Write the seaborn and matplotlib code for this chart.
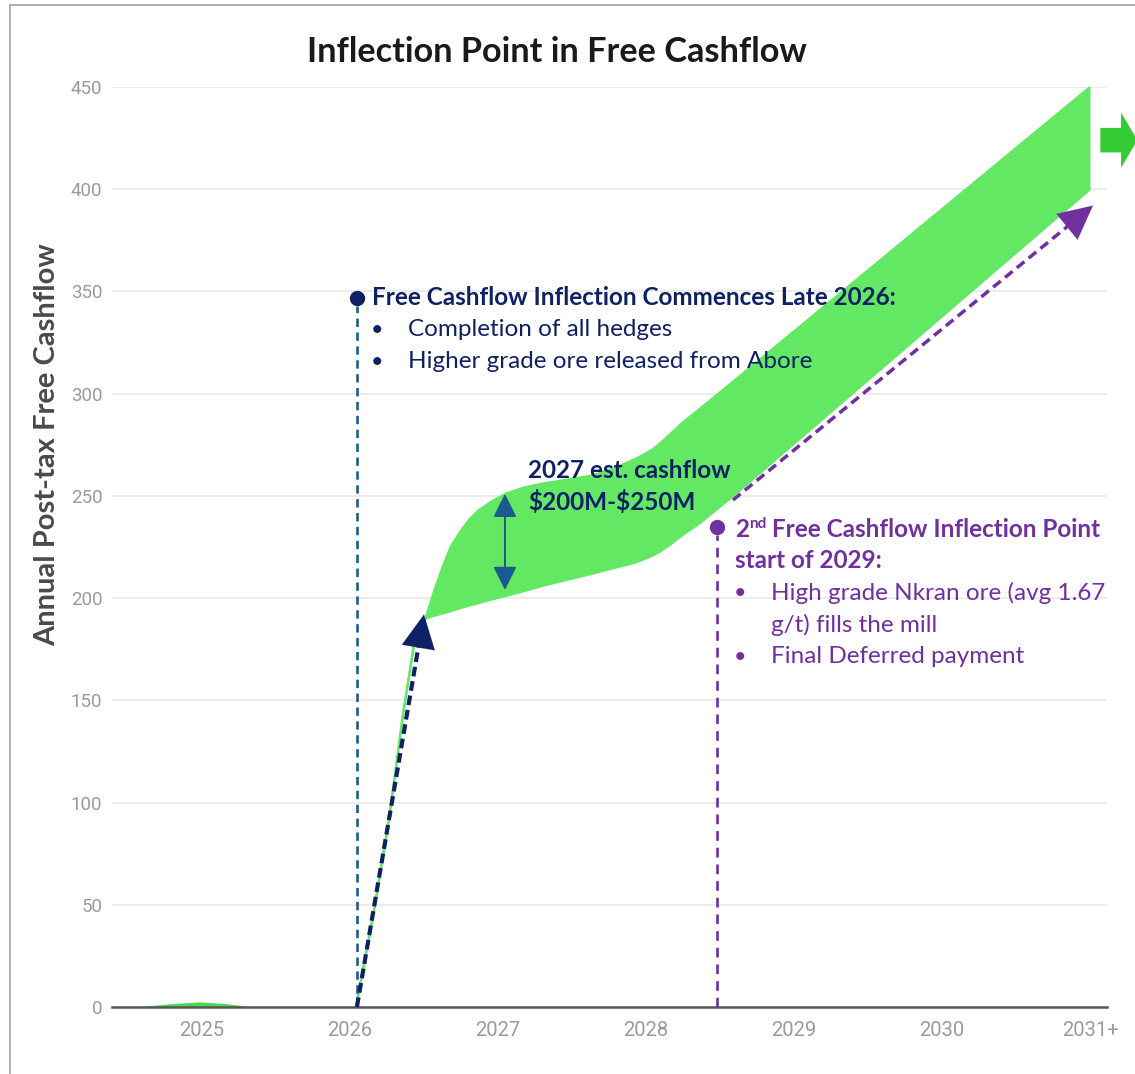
import numpy as np
import pandas as pd
import matplotlib
matplotlib.use("Agg")
import matplotlib.pyplot as plt
import seaborn as sns
from matplotlib.patches import FancyArrow, Rectangle

# ---------------- data ----------------
year_labels = ["2025", "2026", "2027", "2028", "2029", "2030", "2031+"]
year_pos = [0, 1, 2, 3, 4, 5, 6]
y_ticks = [0, 50, 100, 150, 200, 250, 300, 350, 400, 450]

band_x = [1.04, 1.16, 1.27, 1.36, 1.43, 1.51, 1.54, 1.58, 1.63, 1.68, 1.74, 1.80,
          1.87, 1.95, 2.05, 2.17, 2.30, 2.47, 2.64, 2.80, 2.91, 2.98, 3.05, 3.10,
          3.16, 3.25, 3.37, 3.59, 6.0]
band_upper = [0, 46, 95, 144, 176, 190, 197, 206, 216, 225, 232, 238,
              243, 247, 251, 254, 256, 258, 260, 264, 267.5, 270, 273, 276,
              280, 286, 293, 306, 450]
band_lower = [0, 46, 95, 144, 176, 190, 190.8, 191.6, 192.6, 193.6, 195, 196.2,
              197.6, 199.2, 201, 203.3, 206, 209, 212, 215, 217, 218.8, 221, 223,
              226, 231, 237, 250, 400]

bump_x = [-0.37, -0.2, -0.01, 0.15, 0.30]
bump_y = [0, 1.2, 2.0, 1.2, 0]

# annotation anchors (data units)
first_inflection = (1.047, 347)
second_inflection = (3.478, 235)
range_2027 = (2.047, 204, 251)
rise_arrow = ((1.047, 0), (1.50, 192))
growth_arrow = ((3.588, 248), (6.02, 392))

# ---------------- style ----------------
sns.set_theme(style="white")
plt.rcParams["font.family"] = ["Lato", "DejaVu Sans"]
plt.rcParams["lines.scale_dashes"] = False

W, H = 1135, 1074
fig = plt.figure(figsize=(W / 100, H / 100), dpi=100)
fig.patch.set_facecolor("white")

left, right, top, bottom = 112, 1107, 87, 1007
ax = fig.add_axes([left / W, 1 - bottom / H, (right - left) / W, (bottom - top) / H])
ax.set_facecolor("white")
ax.set_xlim(-0.608, 6.115)
ax.set_ylim(0, 450)

GREEN = "#62E862"
NAVY = "#0F2164"
TEAL = "#1F5C87"
PURPLE = "#7030A0"
ARROWBLUE = "#1A5A8C"

for yt in y_ticks[1:]:
    ax.axhline(yt, color="#ebebeb", lw=1.3, zorder=0)

for s in ["left", "right", "top"]:
    ax.spines[s].set_visible(False)
ax.spines["bottom"].set_color("#555555")
ax.spines["bottom"].set_linewidth(1.8)

ax.set_xticks(year_pos)
ax.set_xticklabels(year_labels)
ax.set_yticks(y_ticks)
ax.tick_params(axis="both", length=0, labelcolor="#9a9a9a")
ax.tick_params(axis="y", pad=7, labelsize=13.5)
ax.tick_params(axis="x", pad=10, labelsize=14.5)
for lab in ax.get_xticklabels() + ax.get_yticklabels():
    lab.set_family(["Roboto", "DejaVu Sans"])

# band
df = pd.DataFrame({"x": band_x, "upper": band_upper, "lower": band_lower})
ax.fill_between(df["x"], df["lower"], df["upper"], color=GREEN, lw=0, zorder=2)
sns.lineplot(data=df, x="x", y="upper", ax=ax, color=GREEN, lw=1.6, zorder=2)
sns.lineplot(data=df, x="x", y="lower", ax=ax, color=GREEN, lw=1.6, zorder=2)
ax.fill_between(bump_x, 0, bump_y, color="#4cd94c", lw=1.5, edgecolor="#4cd94c", zorder=2)
ax.set_xlabel("")
ax.set_ylabel("")

# vertical dashed markers
ax.plot([first_inflection[0]] * 2, [0, first_inflection[1] - 4], color=TEAL,
        lw=1.9, ls=(0, (6, 4)), zorder=3)
ax.plot(*first_inflection, "o", color=NAVY, ms=10, zorder=4)
ax.plot([second_inflection[0]] * 2, [0, second_inflection[1] - 4], color=PURPLE,
        lw=1.9, ls=(0, (7, 5)), zorder=3)
ax.plot(*second_inflection, "o", color=PURPLE, ms=10, zorder=4)


def dashed_arrow(p0, p1, color, lw, dash):
    p0 = np.array(p0, float)
    p1 = np.array(p1, float)
    d = p1 - p0
    body_end = p0 + d * 0.94
    ax.plot([p0[0], body_end[0]], [p0[1], body_end[1]], color=color, lw=lw,
            ls=(0, dash), zorder=5, dash_capstyle="butt")
    start = p0 + d * 0.93
    ax.annotate("", xy=tuple(p1), xytext=tuple(start),
                arrowprops=dict(arrowstyle="-|>,head_length=1.0,head_width=0.5",
                                mutation_scale=24, color=color, lw=0.1,
                                shrinkA=0, shrinkB=0), zorder=6)


dashed_arrow(rise_arrow[0], rise_arrow[1], NAVY, 3.0, (7, 3.5))
dashed_arrow(growth_arrow[0], growth_arrow[1], PURPLE, 2.5, (7, 4))

ax.annotate("", xy=(range_2027[0], range_2027[2]), xytext=(range_2027[0], range_2027[1]),
            arrowprops=dict(arrowstyle="<|-|>,head_length=0.9,head_width=0.45",
                            mutation_scale=16, color=ARROWBLUE, lw=1.4,
                            shrinkA=0, shrinkB=0), zorder=6)

ax.add_patch(FancyArrow(6.07, 424, 0.25, 0, width=12, head_width=27, head_length=0.11,
                        length_includes_head=True, color="#33CC33", lw=0,
                        clip_on=False, zorder=6))

# ---------------- texts ----------------
fs = 17.5
ax.text(1.149, 346.8, "Free Cashflow Inflection Commences Late 2026:", color=NAVY,
        fontsize=fs, fontweight="bold", va="center", ha="left", zorder=7)
for yy, tt in [(331.2, "Completion of all hedges"),
               (315.5, "Higher grade ore released from Abore")]:
    ax.text(1.18, yy, "•", color=NAVY, fontsize=fs - 2, va="center", ha="center", zorder=7)
    ax.text(1.392, yy, tt, color=NAVY, fontsize=fs, va="center", ha="left", zorder=7)

ax.text(2.203, 262.2, "2027 est. cashflow", color=NAVY, fontsize=fs,
        fontweight="bold", va="center", ha="left", zorder=7)
ax.text(2.203, 247.0, "\\$200M-\\$250M", color=NAVY, fontsize=fs,
        fontweight="bold", va="center", ha="left", zorder=7)

t1 = ax.text(3.601, 233.8, "2", color=PURPLE, fontsize=fs, fontweight="bold",
             va="center", ha="left", zorder=7)
t2 = ax.annotate("nd", xy=(1.0, 0.42), xycoords=t1, color=PURPLE, fontsize=11,
                 fontweight="bold", va="bottom", ha="left", zorder=7)
ax.annotate(" Free Cashflow Inflection Point", xy=(1.0, 0.0), xycoords=(t2, t1),
            color=PURPLE, fontsize=fs, fontweight="bold", va="bottom", ha="left", zorder=7)
ax.text(3.601, 218.2, "start of 2029:", color=PURPLE, fontsize=fs,
        fontweight="bold", va="center", ha="left", zorder=7)
for yy, tt, bullet in [(202.5, "High grade Nkran ore (avg 1.67", True),
                       (186.9, "g/t) fills the mill", False),
                       (171.2, "Final Deferred payment", True)]:
    if bullet:
        ax.text(3.635, yy, "•", color=PURPLE, fontsize=fs - 2, va="center", ha="center", zorder=7)
    ax.text(3.845, yy, tt, color=PURPLE, fontsize=fs, va="center", ha="left", zorder=7)

fig.text(557 / W, 1 - 52 / H, "Inflection Point in Free Cashflow", fontsize=24.7,
         fontweight="bold", color="#1a1a1a", ha="center", va="center")
fig.text(47 / W, 1 - 445 / H, "Annual Post-tax Free Cashflow", fontsize=21,
         fontweight="bold", color="#4a4a4a", ha="center", va="center", rotation=90)

fig.patches.append(Rectangle((10 / W, -0.1), 1.2, 1 - 5 / H + 0.1, transform=fig.transFigure,
                             fill=False, edgecolor="#a8a8a8", lw=1.3))

fig.savefig("out.png", dpi=100, facecolor="white")
